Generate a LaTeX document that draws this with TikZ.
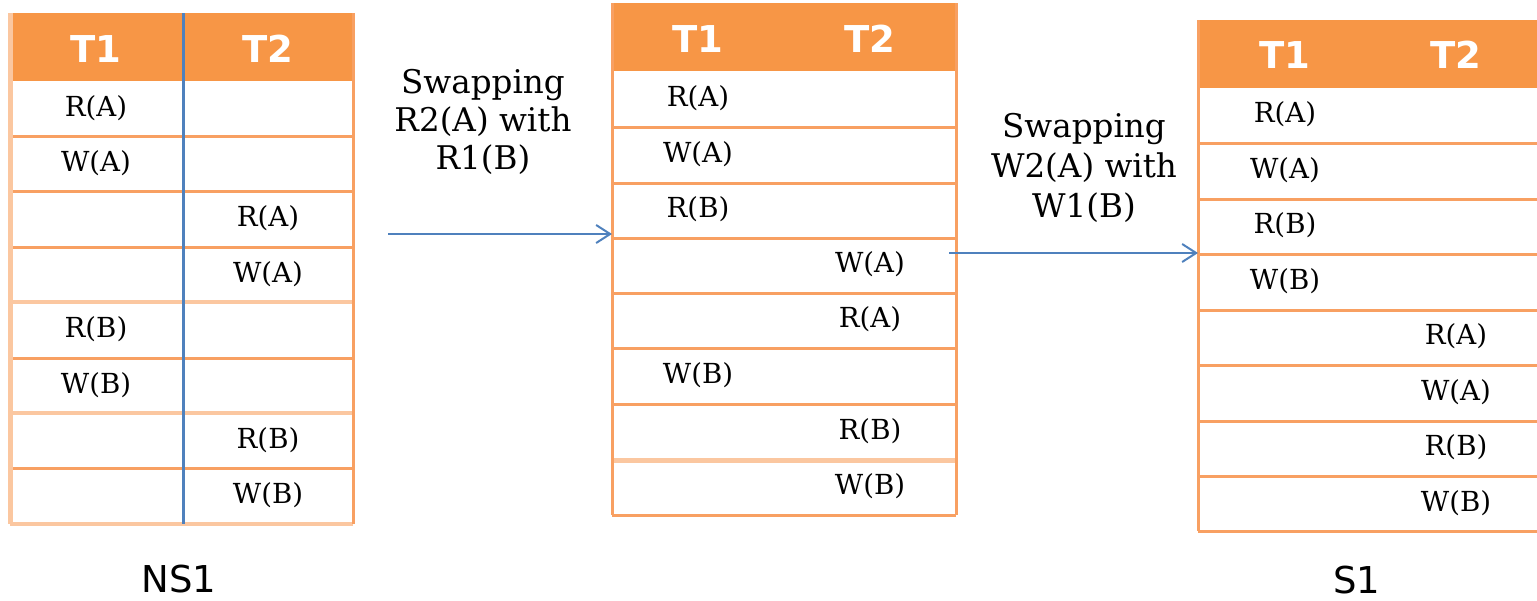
\documentclass[tikz,border=0pt]{standalone}
\usepackage{fontspec}
\setmainfont{DejaVu Serif}
\newfontfamily\hdfont{DejaVu Sans}
\usetikzlibrary{arrows.meta}
\definecolor{hdr}{HTML}{F79646}
\definecolor{odark}{HTML}{F8A062}
\definecolor{olight}{HTML}{FBC7A0}
\definecolor{ablue}{HTML}{4F81BD}
\tikzset{
  cell/.style={font=\fontsize{13.8}{16}\selectfont, inner sep=0pt, anchor=base},
  head/.style={font=\hdfont\bfseries\fontsize{18.5}{22}\selectfont, text=white, inner sep=0pt, anchor=base},
  hline/.style={draw=odark, line width=1.5pt},
  lline/.style={draw=olight, line width=2pt},
  lab/.style={font=\fontsize{16.3}{19}\selectfont, anchor=base, inner sep=0pt},
  tname/.style={font=\hdfont\fontsize{18.5}{22}\selectfont, anchor=base, inner sep=0pt},
  arr/.style={draw=ablue, line width=1pt, -{Straight Barb[length=7pt,width=9pt]}}
}
\begin{document}
\begin{tikzpicture}[x=0.5pt,y=-0.5pt]
\useasboundingbox (0,0) rectangle (1537,600);
% ---------- Table 1 (NS1)
\fill[hdr] (10,13) rectangle (353,81);
\foreach \yy in {136,191,247,358,468} \draw[hline] (10,\yy) -- (353,\yy);
\foreach \yy in {302,413,524} \draw[lline] (10,\yy) -- (353,\yy);
\draw[lline, line width=2.5pt] (10,13) -- (10,524);
\draw[hline] (353,13) -- (353,524);
\draw[ablue, line width=1.5pt] (183,13) -- (183,524);
\node[head] (h1a) at (96,62) {T1};
\node[head] (h1b) at (268,62) {T2};
\node[cell] (c11) at (96,116) {R(A)};
\node[cell] (c12) at (96,171) {W(A)};
\node[cell] (c13) at (268,226) {R(A)};
\node[cell] (c14) at (268,282) {W(A)};
\node[cell] (c15) at (96,337) {R(B)};
\node[cell] (c16) at (96,393) {W(B)};
\node[cell] (c17) at (268,448) {R(B)};
\node[cell] (c18) at (268,503) {W(B)};
\node[tname] (ns1) at (179,592) {NS1};
% ---------- Table 2
\fill[hdr] (612,3) rectangle (956,71);
\foreach \yy in {127,183,238,293,348,404,515} \draw[hline] (612,\yy) -- (956,\yy);
\foreach \yy in {460} \draw[lline, line width=2.5pt] (612,\yy) -- (956,\yy);
\draw[hline] (612,3) -- (612,515);
\draw[hline] (956,3) -- (956,515);
\node[head] (h2a) at (698,52) {T1};
\node[head] (h2b) at (870,52) {T2};
\node[cell] (c21) at (698,106) {R(A)};
\node[cell] (c22) at (698,162) {W(A)};
\node[cell] (c23) at (698,217) {R(B)};
\node[cell] (c24) at (870,272) {W(A)};
\node[cell] (c25) at (870,327) {R(A)};
\node[cell] (c26) at (698,383) {W(B)};
\node[cell] (c27) at (870,439) {R(B)};
\node[cell] (c28) at (870,494) {W(B)};
% ---------- Table 3 (S1)
\fill[hdr] (1198,20) rectangle (1537,88);
\foreach \yy in {143,199,254,310,365,421,476,531} \draw[hline] (1198,\yy) -- (1537,\yy);
\draw[hline] (1198,20) -- (1198,531);
\node[head] (h3a) at (1285,68) {T1};
\node[head] (h3b) at (1456,68) {T2};
\node[cell] (c31) at (1285,122) {R(A)};
\node[cell] (c32) at (1285,178) {W(A)};
\node[cell] (c33) at (1285,233) {R(B)};
\node[cell] (c34) at (1285,289) {W(B)};
\node[cell] (c35) at (1456,344) {R(A)};
\node[cell] (c36) at (1456,400) {W(A)};
\node[cell] (c37) at (1456,455) {R(B)};
\node[cell] (c38) at (1456,511) {W(B)};
\node[tname] (s1) at (1357,593) {S1};
% ---------- Arrows and labels
\coordinate (a1s) at (388,234);
\coordinate (a1e) at (612,234);
\coordinate (a2s) at (949,253);
\coordinate (a2e) at (1198,253);
\draw[arr] (a1s) -- (a1e);
\draw[arr] (a2s) -- (a2e);
\node[lab] (l1a) at (483,93) {Swapping};
\node[lab] (l1b) at (483,131) {R2(A) with};
\node[lab] (l1c) at (483,169) {R1(B)};
\node[lab] (l2a) at (1084,137) {Swapping};
\node[lab] (l2b) at (1084,177) {W2(A) with};
\node[lab] (l2c) at (1084,217) {W1(B)};
\end{tikzpicture}
\end{document}
